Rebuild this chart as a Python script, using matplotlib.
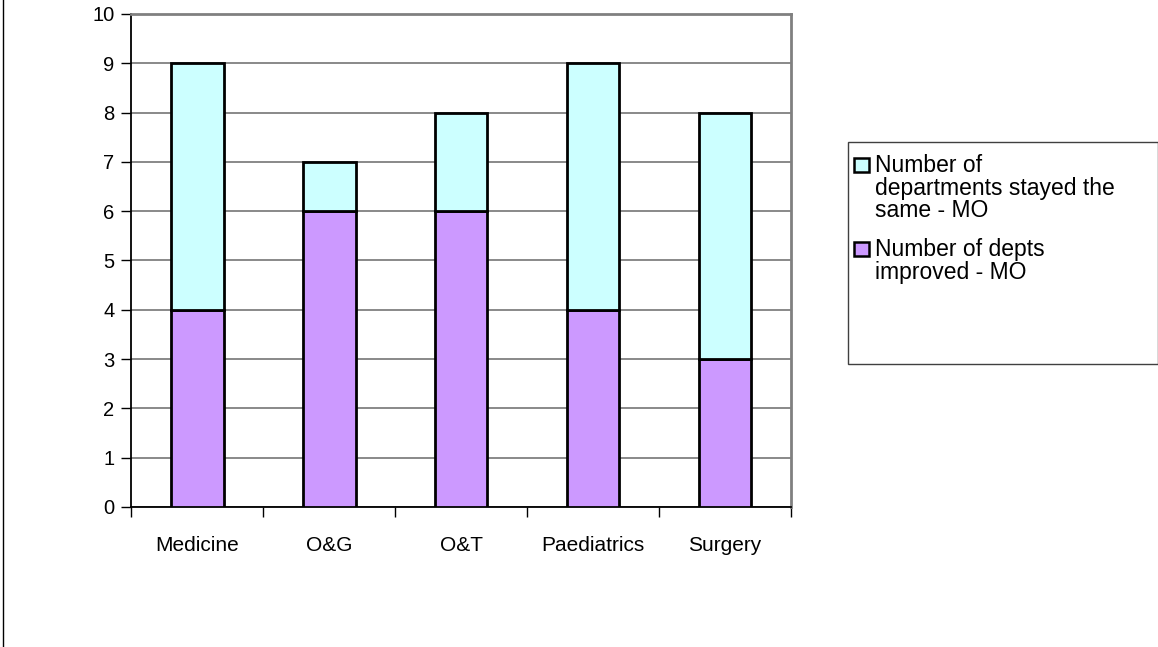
import numpy as np
import matplotlib.pyplot as plt
from matplotlib.patches import Rectangle
from matplotlib.lines import Line2D

plt.rcParams['font.family'] = ['Liberation Sans', 'DejaVu Sans']

# data
departments = ['Medicine', 'O&G', 'O&T', 'Paediatrics', 'Surgery']
improved = [4, 6, 6, 4, 3]
stayed_same = [5, 1, 2, 5, 5]
series_names = ['Number of\ndepartments stayed the\nsame - MO',
                'Number of depts\nimproved - MO']
colors = ['#CCFFFF', '#CC99FF']

fig = plt.figure(figsize=(11.58, 6.47), dpi=100)
ax = fig.add_axes([0.1133, 0.2164, 0.5697, 0.762])

x = np.arange(len(departments))
ax.bar(x, improved, width=0.4, color=colors[1], edgecolor='black', linewidth=2, zorder=3)
ax.bar(x, stayed_same, width=0.4, bottom=improved, color=colors[0],
       edgecolor='black', linewidth=2, zorder=3)

ax.set_xlim(-0.5, len(departments) - 0.5)
ax.set_ylim(0, 10)
ax.set_yticks(range(0, 11))
ax.yaxis.grid(True, color='#808080', linewidth=1.3, zorder=0)

# category ticks sit between the bars, labels under the bars
ax.set_xticks(np.arange(-0.5, len(departments)), minor=False)
ax.set_xticklabels([])
ax.set_xticks(x, minor=True)
ax.set_xticklabels(departments, minor=True)
ax.tick_params(axis='x', which='minor', length=0, pad=21, labelsize=15)
ax.tick_params(axis='x', which='major', length=7, width=1, direction='out')
ax.tick_params(axis='y', length=7, width=1, direction='out', labelsize=14.5, pad=5)

for side in ['top', 'right']:
    ax.spines[side].set_color('#808080')
    ax.spines[side].set_linewidth(2)
ax.spines['left'].set_linewidth(1.3)
ax.spines['bottom'].set_linewidth(1.3)

# legend box, drawn by hand so the swatch sits on the first line
fig.patches.append(Rectangle((0.7325, 0.438), 0.2675, 0.342, transform=fig.transFigure,
                             facecolor='white', edgecolor='#404040', linewidth=1))
entries = [(colors[0], series_names[0], 0.7558), (colors[1], series_names[1], 0.626)]
for col, name, ytop in entries:
    fig.patches.append(Rectangle((0.7375, ytop - 0.022), 0.0125, 0.022, transform=fig.transFigure,
                                 facecolor=col, edgecolor='black', linewidth=1.8))
    fig.text(0.7555, ytop + 0.006, name, fontsize=16.5, va='top', ha='left', linespacing=0.97)

# outer chart border on the left
fig.lines.append(Line2D([0.003, 0.003], [0, 1], transform=fig.transFigure,
                        color='black', linewidth=1))

fig.savefig('out.png', dpi=100)
